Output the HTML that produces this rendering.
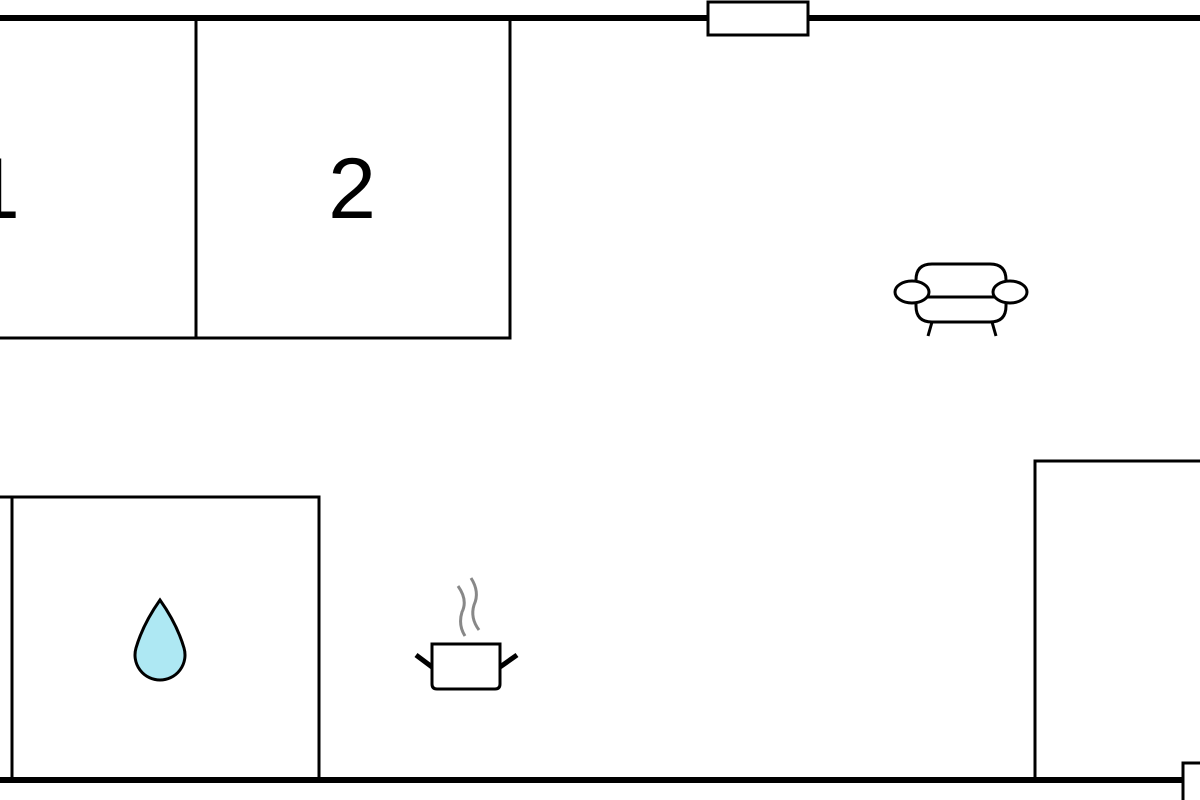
<!DOCTYPE html>
<html><head><style>html,body{margin:0;padding:0;background:#fff;width:1200px;height:800px;overflow:hidden}</style></head>
<body>
<svg width="1200" height="800" viewBox="0 0 1200 800" xmlns="http://www.w3.org/2000/svg">
<rect width="1200" height="800" fill="#fff"/>
<g stroke="#000" fill="none">
<line x1="0" y1="18" x2="1200" y2="18" stroke-width="6"/>
<line x1="0" y1="780" x2="1200" y2="780" stroke-width="6"/>
<rect x="708" y="2" width="100" height="33" fill="#fff" stroke-width="3"/>
<rect x="1183" y="763" width="30" height="40" fill="#fff" stroke-width="3"/>
<polyline points="0,338 510,338 510,18" stroke-width="3"/>
<line x1="196" y1="18" x2="196" y2="338" stroke-width="3"/>
<polyline points="0,497 319,497 319,780" stroke-width="3"/>
<line x1="12" y1="497" x2="12" y2="780" stroke-width="3"/>
<polyline points="1200,461 1035,461 1035,780" stroke-width="3"/>
<g stroke-width="3">
<path d="M916,292 L916,280 Q916,264 932,264 L990,264 Q1006,264 1006,280 L1006,292"/>
<path d="M916,296 L916,306 Q916,322 932,322 L990,322 Q1006,322 1006,306 L1006,296"/>
<line x1="928" y1="297" x2="994" y2="297"/>
<ellipse cx="912" cy="292" rx="17" ry="11" fill="#fff"/>
<ellipse cx="1010" cy="292" rx="17" ry="11" fill="#fff"/>
<line x1="932" y1="322" x2="928" y2="336"/>
<line x1="992" y1="322" x2="996" y2="336"/>
</g>
<path d="M432,644 L500,644 L500,684 Q500,689 495,689 L437,689 Q432,689 432,684 Z" stroke-width="3"/>
<line x1="416" y1="655" x2="432" y2="667" stroke-width="5"/>
<line x1="517" y1="655" x2="500" y2="667" stroke-width="5"/>
<path d="M458,586 Q468,600 462,612 Q458,625 465,636" stroke="#888" stroke-width="3"/>
<path d="M471,578 Q480,592 474,605 Q470,618 479,630" stroke="#888" stroke-width="3"/>
<path d="M160,600 Q143,624 136,648 A25,25 0 1,0 184,648 Q177,624 160,600 Z" fill="#aee8f3" stroke-width="3"/>
</g>
<text x="-28" y="218" font-family="Liberation Sans, sans-serif" font-size="86" fill="#000">1</text>
<text x="352" y="218" text-anchor="middle" font-family="Liberation Sans, sans-serif" font-size="86" fill="#000">2</text>
</svg>
</body></html>
